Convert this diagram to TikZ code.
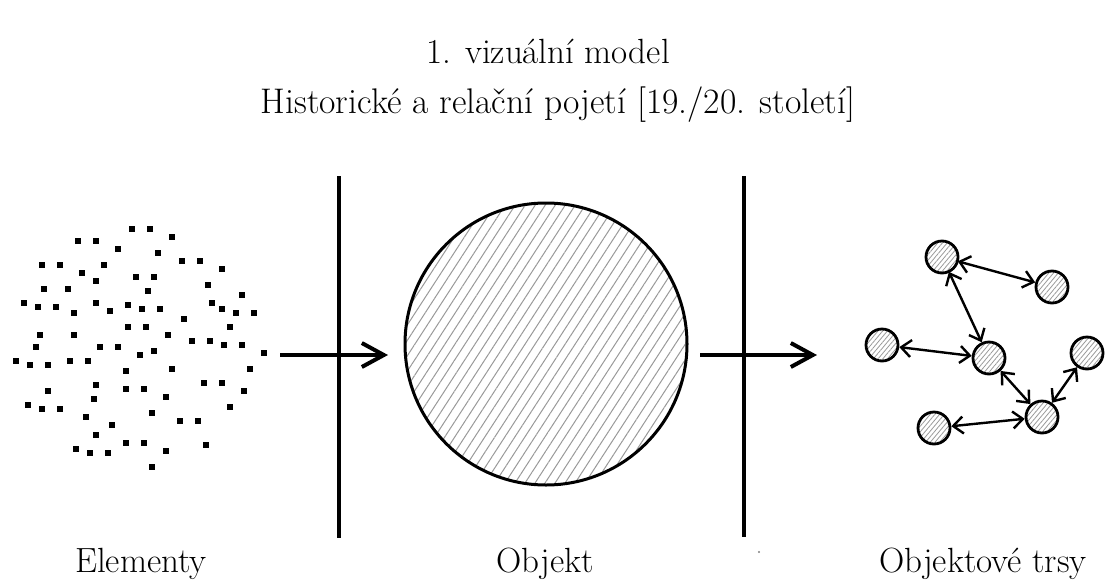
\documentclass[tikz,border=0pt]{standalone}
\usepackage{fontspec}
\usetikzlibrary{arrows.meta,patterns.meta}

\tikzset{
  popis/.style={font=\fontsize{35}{42}\selectfont,anchor=base,inner sep=0pt},
  objekt/.style={circle,draw,line width=3pt,minimum size=282pt,inner sep=0pt,
    pattern={Lines[angle=57,distance=8.4pt,line width=1pt]},pattern color=gray!80},
  uzel/.style={circle,draw,line width=2.8pt,minimum size=32pt,inner sep=0pt,
    pattern={Lines[angle=50,distance=3.6pt,line width=0.8pt]},pattern color=gray!80},
  sipka/.style={line width=4pt,-{Straight Barb[length=22pt,width=24pt]}},
  vazba/.style={line width=2.4pt,{Straight Barb[length=10pt,width=17pt]}-{Straight Barb[length=10pt,width=17pt]}},
  hranice/.style={line width=4pt}
}

\begin{document}
\begin{tikzpicture}[x=1pt,y=-1pt]
  \useasboundingbox (0,0) rectangle (1117,582);

  % nadpis
  \node[popis] (t1) at (548,63) {1. vizuální model};
  \node[popis] (t2) at (558,113) {\fontsize{35.6}{42}\selectfont Historické a relační pojetí [19./20. století]};

  % elementy
  \foreach \x/\y in {132/229,150/229,172/237,78/241,96/241,118/249,158/253,42/265,60/265,
      104/265,182/261,200/261,222/269,82/273,136/277,154/277,96/281,148/291,208/285,44/289,
      68/289,242/295,24/303,38/307,56/307,96/303,128/305,74/313,110/311,142/309,160/309,
      212/303,222/309,236/313,254/313,184/319,128/327,146/327,230/327,40/335,74/335,168/335,
      192/341,210/341,224/345,242/345,36/347,100/347,118/347,264/353,140/355,154/351,16/361,
      30/365,48/365,70/361,88/361,126/371,172/369,250/369,96/385,126/389,144/389,204/383,
      222/383,48/391,244/391,94/399,166/397,28/405,42/409,60/409,230/407,152/413,86/417,
      180/421,198/421,112/425,96/435,126/443,144/443,76/449,90/453,108/453,166/451,206/445,
      152/467}
    \fill ({\x-2.7},{\y-2.7}) rectangle ++(5.4,5.4);

  % hranice
  \coordinate (h1) at (339,176);
  \coordinate (d1) at (339,538);
  \coordinate (h2) at (744,176);
  \coordinate (d2) at (744,537);
  \draw[hranice] (h1) -- (d1);
  \draw[hranice] (h2) -- (d2);

  % objekt
  \node[objekt] (obj) at (546,344) {};

  % sipky
  \coordinate (s1a) at (280,355);
  \coordinate (s1b) at (388,355);
  \coordinate (s2a) at (700,355);
  \coordinate (s2b) at (817,355);
  \draw[sipka] (s1a) -- (s1b);
  \draw[sipka] (s2a) -- (s2b);

  % trsy
  \node[uzel] (k1) at (942,257) {};
  \node[uzel] (k2) at (1052,287) {};
  \node[uzel] (k3) at (882,345) {};
  \node[uzel] (k4) at (989,358) {};
  \node[uzel] (k5) at (1087,353) {};
  \node[uzel] (k6) at (1042,417) {};
  \node[uzel] (k7) at (934,428) {};
  \draw[vazba] (k1) -- (k2);
  \draw[vazba] (k1) -- (k4);
  \draw[vazba] (k3) -- (k4);
  \draw[vazba] (k4) -- (k6);
  \draw[vazba] (k6) -- (k5);
  \draw[vazba] (k7) -- (k6);

  \fill[gray] (759,552) circle (1.2);

  % popisky
  \node[popis] (p1) at (141,572) {Elementy};
  \node[popis] (p2) at (545,572) {Objekt};
  \node[popis] (p3) at (983,572) {Objektové trsy};
\end{tikzpicture}
\end{document}
